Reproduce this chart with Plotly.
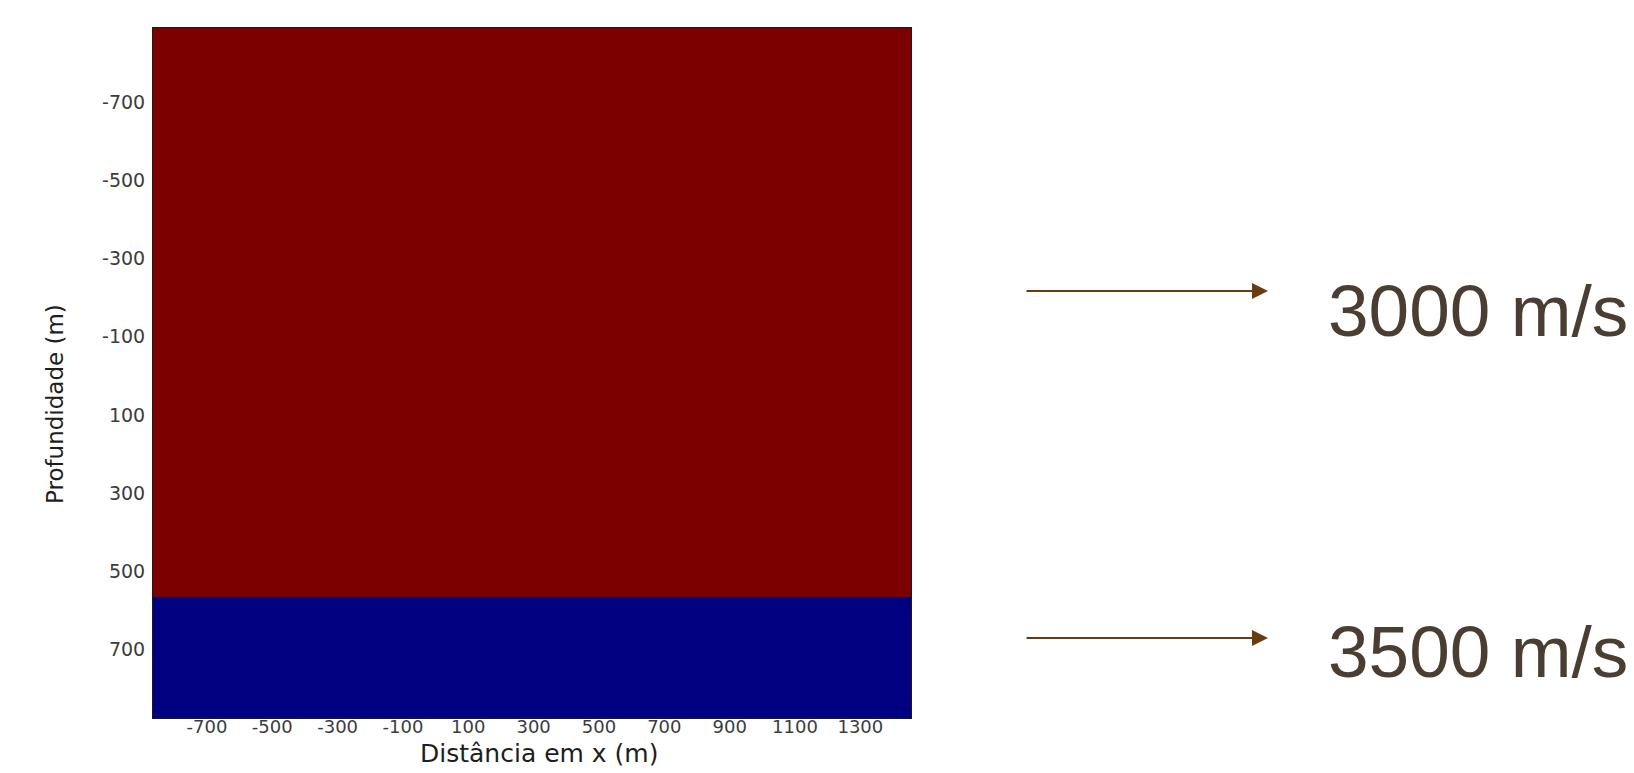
import plotly.graph_objects as go

# Two-layer velocity model: horizontal interface between layers
velocities = [3000, 3500]              # m/s, top layer then bottom layer
layer_edges_depth = [-890, 565, 875]   # m, top of model, interface, bottom of model
x_extent = [-865, 1455]                # m, horizontal extent of the model
x_ticks = [-700, -500, -300, -100, 100, 300, 500, 700, 900, 1100, 1300]
y_ticks = [-700, -500, -300, -100, 100, 300, 500, 700]

W, H = 1634, 773
left, right, top, bottom = 153, 911, 28, 718

red = "#7c0000"
blue = "#000080"
vmin, vmax = min(velocities), max(velocities)

fig = go.Figure()
fig.add_trace(go.Heatmap(
    x=x_extent,
    y=layer_edges_depth,
    z=[[v] for v in velocities],
    zmin=vmin, zmax=vmax,
    colorscale=[[0, red], [1, blue]],
    showscale=False,
    hoverinfo="skip",
))

axis_font = dict(family="DejaVu Sans", size=19, color="#3c3c3c")

fig.update_xaxes(
    range=x_extent,
    tickvals=x_ticks,
    ticktext=[str(v) for v in x_ticks],
    tickfont=dict(axis_font, size=18),
    ticks="",
    showgrid=False, zeroline=False,
    showline=True, linecolor="#1a1a1a", linewidth=1, mirror=True,
    ticklabelstandoff=-8,
)
fig.update_yaxes(
    range=[layer_edges_depth[-1], layer_edges_depth[0]],
    tickvals=y_ticks,
    ticktext=[str(v) for v in y_ticks],
    tickfont=axis_font,
    ticks="",
    showgrid=False, zeroline=False,
    showline=True, linecolor="#1a1a1a", linewidth=1, mirror=True,
    ticklabelstandoff=3,
)

pw = right - left
ph = bottom - top

def px_x(p):
    return (p - left) / pw

def px_y(p):
    return (bottom - p) / ph

fig.add_annotation(
    text="Distância em x (m)", xref="paper", yref="paper",
    x=px_x(539), y=px_y(753), xanchor="center", yanchor="middle",
    showarrow=False, font=dict(family="DejaVu Sans", size=25, color="#1e1e1e"),
)
fig.add_annotation(
    text="Profundidade (m)", xref="paper", yref="paper",
    x=px_x(55), y=px_y(404), xanchor="center", yanchor="middle",
    textangle=-90, showarrow=False, font=dict(family="DejaVu Sans", size=23, color="#1e1e1e"),
)

# Arrows pointing to the velocity labels of each layer
arrow_color = "#6b3b10"
label_rows = [(291, 310), (638, 651)]   # (arrow row, text row) in pixels
for v, (ay_px, ty_px) in zip(velocities, label_rows):
    fig.add_annotation(
        xref="paper", yref="paper",
        x=px_x(1268), y=px_y(ay_px),
        ax=-(1268 - 1025), ay=0,
        text="", showarrow=True,
        arrowhead=2, arrowsize=1.6, arrowwidth=2, arrowcolor=arrow_color,
        standoff=0, startstandoff=0,
    )
    fig.add_annotation(
        xref="paper", yref="paper",
        x=px_x(1326), y=px_y(ty_px),
        xanchor="left", yanchor="middle",
        text=f"{v} m/s", showarrow=False,
        font=dict(family="Liberation Sans", size=73, color="#4a3e33"),
    )

fig.update_layout(
    width=W, height=H,
    margin=dict(l=left, r=W - right, t=top, b=H - bottom, pad=0),
    paper_bgcolor="white", plot_bgcolor="white",
    showlegend=False,
)

fig.write_html("out.html")
